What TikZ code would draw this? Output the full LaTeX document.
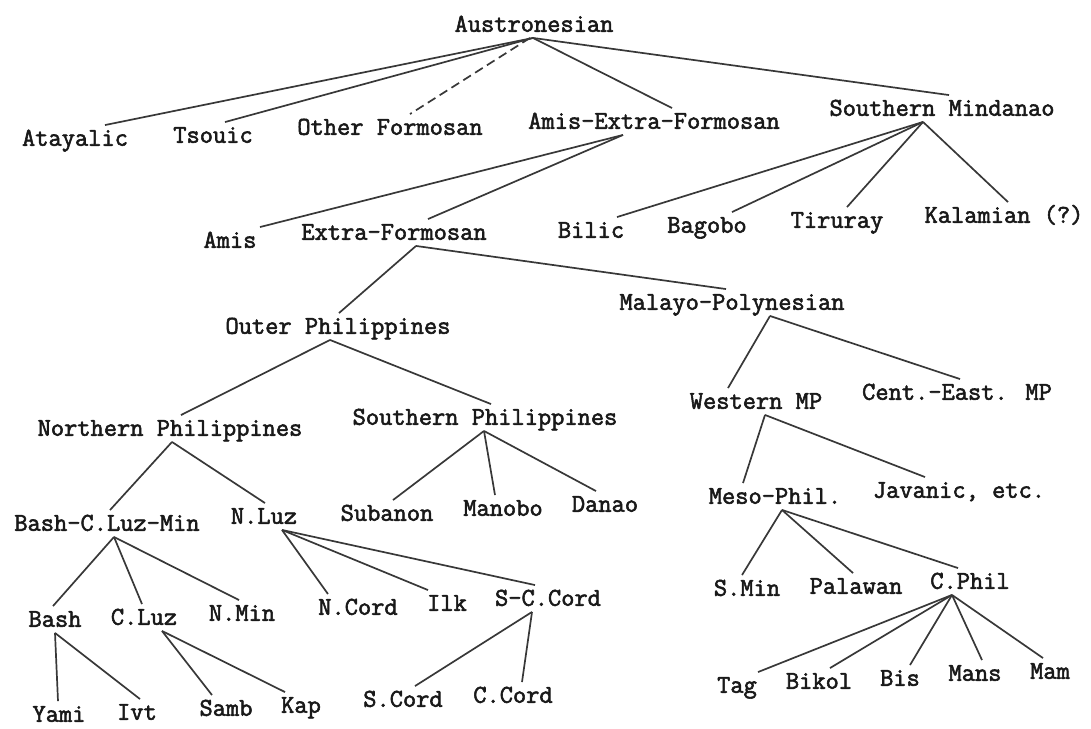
\documentclass[tikz,border=0pt]{standalone}
\usepackage{fontspec}
\newfontfamily\typewr{Latin Modern Mono}[FakeBold=2.2]
\begin{document}
\begin{tikzpicture}[x=1pt,y=-1pt,
  lang/.style={font=\fontsize{25.7}{30}\typewr, text=black!90, inner sep=0pt, text height=15.5pt, text depth=0pt, anchor=center},
  branch/.style={line width=1.7pt, draw=black!78},
  uncertain/.style={branch, dash pattern=on 9pt off 5pt}]
\useasboundingbox (0,0) rectangle (1091,728);
% level 0
\node[lang] (aus) at (534,24) {Austronesian};
% level 1
\node[lang] (ata) at (75,138) {Atayalic};
\node[lang] (tso) at (213,135) {Tsouic};
\node[lang] (oth) at (390,127) {Other Formosan};
\node[lang] (aef) at (654,121) {Amis-Extra-Formosan};
\node[lang] (smi) at (942,108) {Southern Mindanao};
% level 2
\node[lang] (ami) at (230,240) {Amis};
\node[lang] (exf) at (394,232) {Extra-Formosan};
\node[lang] (bil) at (591,230) {Bilic};
\node[lang] (bag) at (707,225) {Bagobo};
\node[lang] (tir) at (837,220) {Tiruray};
\node[lang] (kal) at (1004,215) {Kalamian (?)};
% level 3
\node[lang] (oph) at (338,326) {Outer Philippines};
\node[lang] (mpo) at (732,302) {Malayo-Polynesian};
% level 4
\node[lang] (nph) at (170,428) {Northern Philippines};
\node[lang] (sph) at (485,417) {Southern Philippines};
\node[lang] (wmp) at (756,401) {Western MP};
\node[lang] (cem) at (957,392) {Cent.-East. MP};
% level 5
\node[lang] (bcl) at (107,523) {Bash-C.Luz-Min};
\node[lang] (nlu) at (264,516) {N.Luz};
\node[lang] (sub) at (387,513) {Subanon};
\node[lang] (man) at (503,508) {Manobo};
\node[lang] (dan) at (605,504) {Danao};
\node[lang] (mes) at (775,496) {Meso-Phil.};
\node[lang] (jav) at (959,490) {Javanic, etc.};
% level 6
\node[lang] (bas) at (55,619) {Bash};
\node[lang] (clu) at (144,617) {C.Luz};
\node[lang] (nmi) at (242,613) {N.Min};
\node[lang] (nco) at (358,607) {N.Cord};
\node[lang] (ilk) at (447,603) {Ilk};
\node[lang] (scc) at (548,598) {S-C.Cord};
\node[lang] (smn) at (747,588) {S.Min};
\node[lang] (pal) at (856,586) {Palawan};
\node[lang] (cph) at (970,581) {C.Phil};
% level 7
\node[lang] (yam) at (59,714) {Yami};
\node[lang] (ivt) at (137,712) {Ivt};
\node[lang] (sam) at (226,708) {Samb};
\node[lang] (kap) at (301,705) {Kap};
\node[lang] (sco) at (403,699) {S.Cord};
\node[lang] (cco) at (513,695) {C.Cord};
\node[lang] (tag) at (737,685) {Tag};
\node[lang] (bik) at (819,681) {Bikol};
\node[lang] (bis) at (900,678) {Bis};
\node[lang] (mns) at (975,673) {Mans};
\node[lang] (mam) at (1050,671) {Mam};
% connectors: parent apex offset, child offset
\newcommand\conn[5][branch]{\draw[#1] ([xshift=#3pt,yshift=-6pt]#2.south) -- ([xshift=#5pt,yshift=5pt]#4.north);}
\conn{aus}{-1}{ata}{30}
\conn{aus}{-1}{tso}{12}
\conn[uncertain]{aus}{-4}{oth}{20}
\conn{aus}{-1}{aef}{18}
\conn{aus}{-1}{smi}{7}
\conn{aef}{-31}{ami}{30}
\conn{aef}{-31}{exf}{34}
\conn{smi}{-19}{bil}{26}
\conn{smi}{-19}{bag}{25}
\conn{smi}{-19}{tir}{10}
\conn{smi}{-19}{kal}{4}
\conn{exf}{22}{oph}{1}
\conn{exf}{22}{mpo}{-6}
\conn{oph}{-8}{nph}{11}
\conn{oph}{-8}{sph}{6}
\conn{mpo}{38}{wmp}{-28}
\conn{mpo}{38}{cem}{3}
\conn{nph}{2}{bcl}{3}
\conn{nph}{2}{nlu}{1}
\conn{sph}{-1}{sub}{6}
\conn{sph}{-1}{man}{-8}
\conn{sph}{-1}{dan}{-9}
\conn{wmp}{9}{mes}{-32}
\conn{wmp}{9}{jav}{-34}
\conn{bcl}{7}{bas}{-2}
\conn{bcl}{7}{clu}{-2}
\conn{bcl}{7}{nmi}{-3}
\conn{nlu}{18}{nco}{-30}
\conn{nlu}{18}{ilk}{-19}
\conn{nlu}{18}{scc}{-13}
\conn{scc}{-16}{sco}{12}
\conn{scc}{-16}{cco}{9}
\conn{mes}{7}{smn}{-5}
\conn{mes}{7}{pal}{-3}
\conn{mes}{7}{cph}{-12}
\conn{cph}{-18}{tag}{21}
\conn{cph}{-18}{bik}{11}
\conn{cph}{-18}{bis}{10}
\conn{cph}{-18}{mns}{7}
\conn{cph}{-18}{mam}{-7}
\conn{bas}{0}{yam}{-1}
\conn{bas}{0}{ivt}{3}
\conn{clu}{18}{sam}{-14}
\conn{clu}{18}{kap}{-16}
\end{tikzpicture}
\end{document}
